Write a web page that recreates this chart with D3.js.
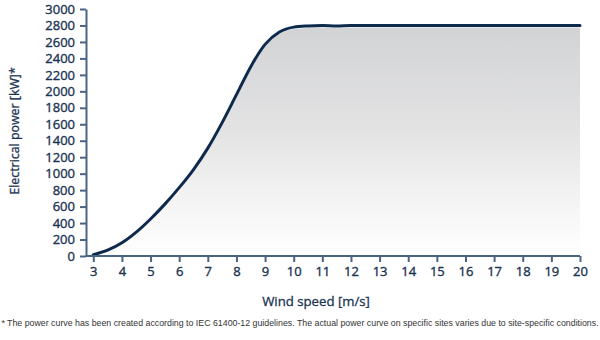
<!DOCTYPE html>
<html><head><meta charset="utf-8">
<script src="https://cdn.jsdelivr.net/npm/d3@7"></script>
<style>
body{margin:0;background:#fff;}
svg{display:block;}
</style></head>
<body>
<svg id="chart" width="600" height="340"></svg>
<script>
const windSpeed = [3, 3.5, 4, 4.5, 5, 5.5, 6, 6.5, 7, 7.5, 8, 8.5, 9, 9.5, 10, 10.5, 11, 11.5, 12, 13, 14, 15, 16, 17, 18, 19, 20];
const power =     [15, 70, 160, 290, 450, 630, 830, 1050, 1310, 1620, 1960, 2300, 2570, 2720, 2780, 2795, 2800, 2795, 2800, 2800, 2800, 2800, 2800, 2800, 2800, 2800, 2800];
const xTicks = d3.range(3, 21);
const yTicks = d3.range(0, 3001, 200);
const xTitle = "Wind speed [m/s]";
const yTitle = "Electrical power [kW]*";
const footnote = "* The power curve has been created according to IEC 61400-12 guidelines. The actual power curve on specific sites varies due to site-specific conditions.";

const svg = d3.select("#chart");
const x = d3.scaleLinear().domain([3, 20]).range([93.3, 580]);
const y = d3.scaleLinear().domain([0, 3000]).range([256, 9]);
const data = windSpeed.map((w, i) => ({w, p: power[i]}));

const defs = svg.append("defs");
const grad = defs.append("linearGradient").attr("id", "fillGrad")
  .attr("x1", 0).attr("y1", 0).attr("x2", 0).attr("y2", 1);
grad.append("stop").attr("offset", "0%").attr("stop-color", "#d2d3d5");
grad.append("stop").attr("offset", "45%").attr("stop-color", "#e3e3e4");
grad.append("stop").attr("offset", "80%").attr("stop-color", "#f6f6f6");
grad.append("stop").attr("offset", "100%").attr("stop-color", "#ffffff");

const area = d3.area().x(d => x(d.w)).y0(y(0)).y1(d => y(d.p) + 2).curve(d3.curveMonotoneX);
svg.append("path").datum(data).attr("d", area).attr("fill", "url(#fillGrad)");

const line = d3.line().x(d => x(d.w)).y(d => y(d.p)).curve(d3.curveMonotoneX);
svg.append("path").datum(data).attr("d", line)
  .attr("fill", "none").attr("stroke", "#0d2a4d").attr("stroke-width", 3)
  .attr("stroke-linecap", "round");

const axisColor = "#4a6483";
const textColor = "#1b3352";
const font = "'Open Sans', sans-serif";

const gx = svg.append("g").attr("transform", `translate(0,${y(0)})`)
  .call(d3.axisBottom(x).tickValues(xTicks).tickFormat(d3.format("d")).tickSize(6).tickSizeOuter(0).tickPadding(5));
gx.select(".domain").attr("d", `M86,0H${x(20)}`);
const gy = svg.append("g").attr("transform", "translate(86,0)")
  .call(d3.axisLeft(y).tickValues(yTicks).tickFormat(d3.format("d")).tickSize(6).tickSizeOuter(0).tickPadding(5));

[gx, gy].forEach(g => {
  g.select(".domain").attr("stroke", axisColor).attr("stroke-width", 2);
  g.selectAll(".tick line").attr("stroke", axisColor).attr("stroke-width", 2);
  g.selectAll(".tick text").attr("fill", textColor)
    .attr("stroke", textColor).attr("stroke-width", 0.35)
    .style("font-family", font).style("font-size", "13px");
});

svg.append("text").attr("x", 316).attr("y", 306).attr("text-anchor", "middle")
  .attr("fill", textColor).attr("stroke", textColor).attr("stroke-width", 0.3)
  .style("font-family", font).style("font-size", "13.2px")
  .text(xTitle);
svg.append("text").attr("transform", "translate(19,131) rotate(-90)").attr("text-anchor", "middle")
  .attr("fill", textColor).attr("stroke", textColor).attr("stroke-width", 0.3)
  .style("font-family", font).style("font-size", "12.4px")
  .text(yTitle);
svg.append("text").attr("x", 300).attr("y", 326).attr("text-anchor", "middle")
  .attr("fill", "#333").style("font-family", "'Liberation Sans', Arial, sans-serif").style("font-size", "8.8px")
  .text(footnote);
</script>
</body></html>
